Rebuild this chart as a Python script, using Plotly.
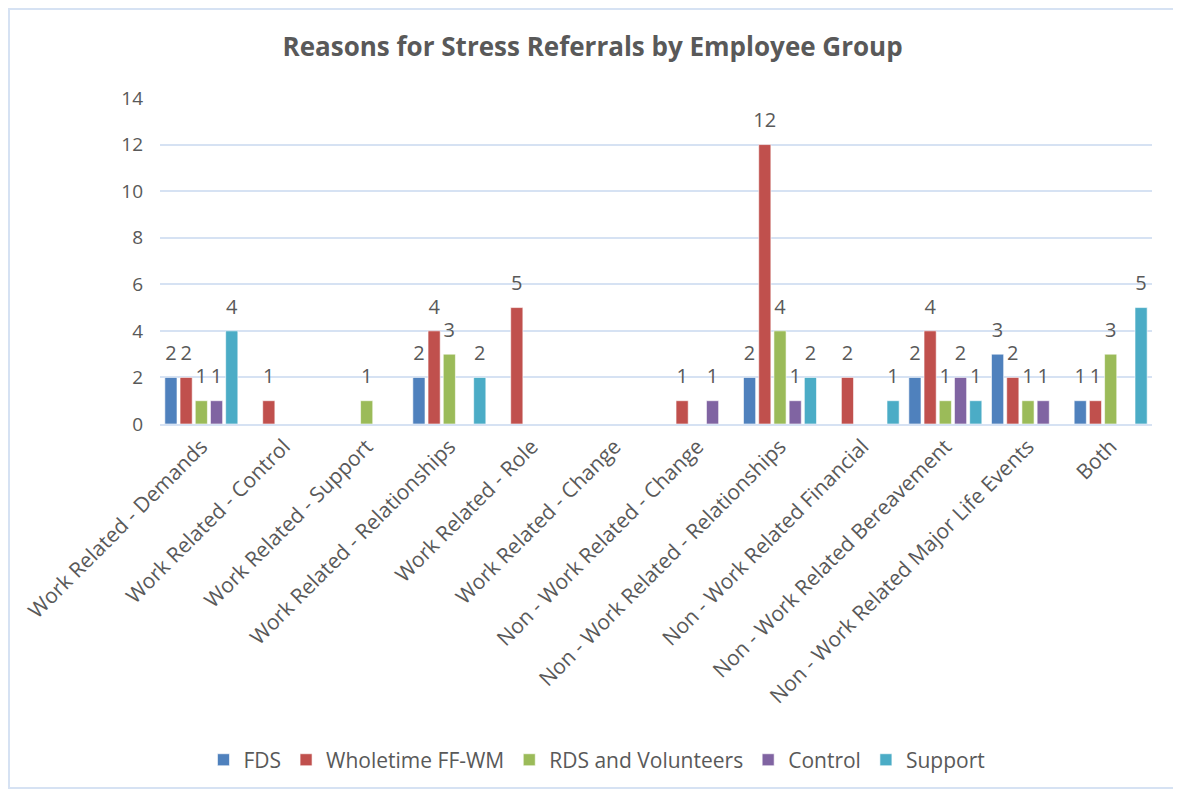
import plotly.graph_objects as go

categories = [
    "Work Related - Demands",
    "Work Related - Control",
    "Work Related - Support",
    "Work Related - Relationships",
    "Work Related - Role",
    "Work Related - Change",
    "Non - Work Related - Change",
    "Non - Work Related - Relationships",
    "Non - Work Related Financial",
    "Non - Work Related Bereavement",
    "Non - Work Related Major Life Events",
    "Both",
]

fds = [2, 0, 0, 2, 0, 0, 0, 2, 0, 2, 3, 1]
wholetime = [2, 1, 0, 4, 5, 0, 1, 12, 2, 4, 2, 1]
rds = [1, 0, 1, 3, 0, 0, 0, 4, 0, 1, 1, 3]
control = [1, 0, 0, 0, 0, 0, 1, 1, 0, 2, 1, 0]
support = [4, 0, 0, 2, 0, 0, 0, 2, 1, 1, 0, 5]

series_names = ["FDS", "Wholetime FF-WM", "RDS and Volunteers", "Control", "Support"]
series_values = [fds, wholetime, rds, control, support]
colors = ["#4F81BD", "#C0504D", "#9BBB59", "#8064A2", "#4BACC6"]

y_ticks = [0, 2, 4, 6, 8, 10, 12, 14]

fig = go.Figure()
for i, (name, vals, col) in enumerate(zip(series_names, series_values, colors)):
    fig.add_trace(go.Bar(
        name=name,
        x=categories,
        y=vals,
        offsetgroup=str(i),
        marker=dict(color=col, line=dict(color="rgba(255,255,255,0.6)", width=1)),
    ))
for i, (name, vals) in enumerate(zip(series_names, series_values)):
    fig.add_trace(go.Scatter(
        x=categories,
        y=[v if v else None for v in vals],
        offsetgroup=str(i),
        mode="markers+text",
        marker=dict(size=18, opacity=0),
        text=[str(v) if v else "" for v in vals],
        textposition="top center",
        textfont=dict(size=20, color="#595959", family="Open Sans"),
        cliponaxis=False,
        showlegend=False,
        hoverinfo="skip",
    ))

fig.update_layout(
    width=1181, height=793,
    barmode="group",
    scattermode="group",
    bargap=0.08,
    scattergap=0.08,
    bargroupgap=0.2,
    paper_bgcolor="white",
    plot_bgcolor="white",
    margin=dict(l=152, r=37, t=90, b=377),
    title=dict(
        text="<b>Reasons for Stress Referrals by Employee Group</b>",
        x=0.495, xanchor="center", y=0.951, yanchor="middle",
        font=dict(size=26, color="#595959", family="Open Sans"),
    ),
    font=dict(family="Open Sans", color="#595959", size=18),
    xaxis=dict(
        tickangle=-45,
        tickfont=dict(size=21, color="#595959"),
        showline=True, linecolor="#D6E2F3", linewidth=2,
        showgrid=False, ticks="",
        automargin=False,
    ),
    yaxis=dict(
        range=[0, 14],
        tickvals=y_ticks,
        tickfont=dict(size=19, color="#595959"),
        showgrid=True, gridcolor="#D6E2F3", gridwidth=2,
        zeroline=False, showline=False, ticks="",
        ticklabelstandoff=16,
        automargin=False,
    ),
    legend=dict(
        orientation="h",
        x=0.4405, xanchor="center",
        y=-1.031, yanchor="middle",
        font=dict(size=21, color="#595959"),
        itemwidth=30,
    ),
    shapes=[dict(
        type="rect", xref="paper", yref="paper",
        x0=-0.1522, x1=1.0242, y0=-1.1166, y1=1.273,
        line=dict(color="#D6E2F3", width=2),
        fillcolor="rgba(0,0,0,0)", layer="below",
    )],
)

fig.write_html("out.html")
